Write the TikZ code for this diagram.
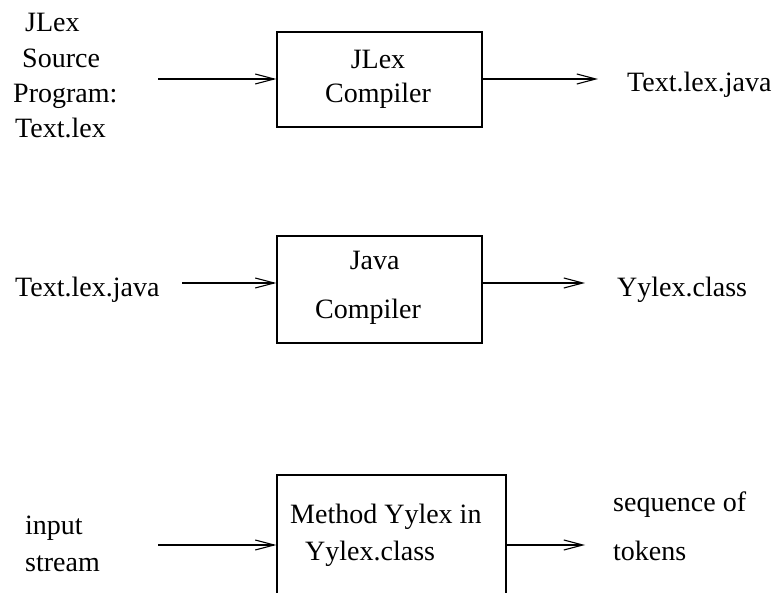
\documentclass[tikz,border=0pt]{standalone}
\usepackage{fontspec}
\setmainfont{Liberation Serif}
\usetikzlibrary{arrows.meta}
\begin{document}
\begin{tikzpicture}[x=1pt,y=-1pt,
  txt/.style={anchor=base west,inner sep=0pt,font=\fontsize{28}{34}\selectfont},
  ctxt/.style={anchor=base,inner sep=0pt,font=\fontsize{28}{34}\selectfont},
  box/.style={draw,line width=1.3pt,inner sep=0pt},
  flow/.style={line width=1.1pt,-{Straight Barb[length=19pt,width=10pt,line width=1.1pt]}}]
\useasboundingbox (0,0) rectangle (777,593);
% row 1
\node[txt] (s1) at (25,32) {JLex};
\node[txt] (s2) at (22,68) {Source};
\node[txt] (s3) at (13,103) {Program:};
\node[txt] (s4) at (15,138) {Text.lex};
\node[box,minimum width=205pt,minimum height=95pt] (b1) at (379.5,79.5) {};
\node[ctxt] (b1a) at (378,68.3) {JLex};
\node[ctxt] (b1b) at (378,103) {Compiler};
\node[txt] (o1) at (627,92) {Text.lex.java};
\coordinate (i1) at (158,79);
\coordinate (e1) at (598,79);
\draw[flow] (i1) -- (i1 -| b1.west);
\draw[flow] (i1 -| b1.east) -- (e1);
% row 2
\node[txt] (s5) at (15,296.7) {Text.lex.java};
\node[box,minimum width=205pt,minimum height=107pt] (b2) at (379.5,289.5) {};
\node[ctxt] (b2a) at (374.7,270) {Java};
\node[ctxt] (b2b) at (368,318.3) {Compiler};
\node[txt] (o2) at (617,296.7) {Yylex.class};
\coordinate (i2) at (182,283);
\coordinate (e2) at (585,283);
\draw[flow] (i2) -- (i2 -| b2.west);
\draw[flow] (i2 -| b2.east) -- (e2);
% row 3
\node[txt] (s6) at (25,535) {input};
\node[txt] (s7) at (25,571.7) {stream};
\node[box,minimum width=229pt,minimum height=150pt] (b3) at (391.5,550) {};
\node[txt] (b3a) at (290,523.3) {Method Yylex in};
\node[txt] (b3b) at (305,560) {Yylex.class};
\node[txt] (o3) at (613,511.7) {sequence of};
\node[txt] (o4) at (613,560) {tokens};
\coordinate (i3) at (158,545);
\coordinate (e3) at (585,545);
\draw[flow] (i3) -- (i3 -| b3.west);
\draw[flow] (i3 -| b3.east) -- (e3);
\end{tikzpicture}
\end{document}
